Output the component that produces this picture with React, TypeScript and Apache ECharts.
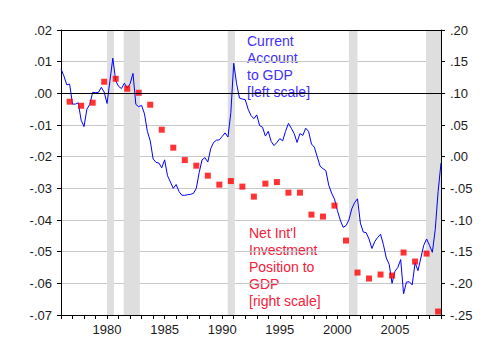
import React, { useEffect, useRef } from "react";
import * as echarts from "echarts";

// Current account to GDP, quarterly from 1976Q1 (left scale)
const caStartYear = 1976;
const caValues = [
  0.0077, 0.0055, 0.0027, 0.0029, -0.0034, -0.0034, -0.003, -0.0085,
  -0.0105, -0.005, -0.0035, 0.0003, 0.0002, 0.0003, 0.0019, 0.0004,
  -0.0032, 0.004, 0.0111, 0.004, 0.0022, 0.0015, 0.0032, 0.0016,
  0.003, 0.0063, -0.0035, -0.0042, -0.0038, -0.0065, -0.012, -0.015,
  -0.0207, -0.0218, -0.022, -0.0235, -0.021, -0.026, -0.028, -0.03,
  -0.0288, -0.031, -0.0322, -0.0322, -0.032, -0.0319, -0.0316, -0.03,
  -0.025, -0.021, -0.0203, -0.0217, -0.0175, -0.0155, -0.0148, -0.0147,
  -0.0136, -0.0125, -0.0138, -0.006, 0.0095, 0.003, -0.0015, -0.0018,
  -0.002, -0.005, -0.007, -0.008, -0.0068, -0.0102, -0.0107, -0.0135,
  -0.012, -0.0152, -0.0165, -0.0155, -0.0143, -0.015, -0.012, -0.0095,
  -0.011, -0.0127, -0.0155, -0.0127, -0.0133, -0.011, -0.012, -0.016,
  -0.017, -0.02, -0.023, -0.0238, -0.0244, -0.029, -0.0315, -0.0334,
  -0.037, -0.04, -0.0423, -0.0418, -0.04, -0.0365, -0.0345, -0.0333,
  -0.041, -0.0438, -0.044, -0.046, -0.049, -0.0468, -0.0455, -0.0445,
  -0.0478, -0.052, -0.054, -0.06, -0.0562, -0.055, -0.0525, -0.0633,
  -0.0596, -0.0595, -0.0605, -0.0535, -0.056, -0.052, -0.048, -0.046,
  -0.048, -0.0502, -0.043, -0.031, -0.022,
];

// Net international investment position to GDP, annual (right scale), plotted at Q4
const niipYears = [
  1976, 1977, 1978, 1979, 1980, 1981, 1982, 1983, 1984, 1985, 1986,
  1987, 1988, 1989, 1990, 1991, 1992, 1993, 1994, 1995, 1996, 1997,
  1998, 1999, 2000, 2001, 2002, 2003, 2004, 2005, 2006, 2007, 2008,
];
const niipValues = [
  0.0868, 0.0804, 0.0852, 0.1183, 0.123, 0.1073, 0.1009, 0.082, 0.0426,
  0.0142, -0.0054, -0.0142, -0.03, -0.0442, -0.0385, -0.0473, -0.0631,
  -0.0426, -0.0401, -0.0568, -0.0568, -0.0915, -0.0946, -0.0773, -0.1325,
  -0.183, -0.1924, -0.1861, -0.1877, -0.1514, -0.1656, -0.153, -0.2445,
];

// NBER recessions (start, end)
const recessionStarts = [1980.0, 1981.45, 1990.48, 2001.0, 2007.7];
const recessionEnds = [1980.6, 1982.85, 1991.1, 2001.75, 2009.0];

const xMin = 1976;
const xMax = 2009;
const xLabelStep = 5;
const leftMin = -0.07;
const leftMax = 0.02;
const leftStep = 0.01;
const rightMin = -0.25;
const rightMax = 0.2;
const rightStep = 0.05;

const FONT = '"Liberation Sans", Arial, Helvetica, sans-serif';

function fmtDec(v: number): string {
  if (Math.abs(v) < 1e-9) return ".00";
  return v.toFixed(2).replace(/^(-?)0\./, "$1.");
}

export default function App() {
  const ref = useRef<HTMLDivElement>(null);

  useEffect(() => {
    if (!ref.current) return;
    const chart = echarts.init(ref.current, null, { renderer: "svg" });

    const caData = caValues.map((v, i) => [caStartYear + i / 4, v]);
    const niipData = niipYears.map((y, i) => [y + 0.75, niipValues[i]]);
    const bands = recessionStarts.map((s, i) => [
      { xAxis: s },
      { xAxis: recessionEnds[i] },
    ]);

    const axisText = { color: "#1a1a1a", fontSize: 13, fontFamily: FONT };

    chart.setOption({
      animation: false,
      backgroundColor: "#ffffff",
      grid: { left: 61, top: 30, width: 380, height: 285, containLabel: false },
      xAxis: {
        type: "value",
        min: xMin,
        max: xMax,
        interval: 1,
        axisLine: { show: true, onZero: false, lineStyle: { color: "#000", width: 1 } },
        axisTick: { show: true, inside: false, length: 4, lineStyle: { color: "#000" } },
        axisLabel: {
          ...axisText,
          margin: 8,
          formatter: (v: number) => (Math.round(v) % xLabelStep === 0 ? String(Math.round(v)) : ""),
        },
        splitLine: { show: false },
      },
      yAxis: [
        {
          type: "value",
          position: "left",
          min: leftMin,
          max: leftMax,
          interval: leftStep,
          axisLine: { show: true, onZero: false, lineStyle: { color: "#000", width: 1 } },
          axisTick: { show: true, inside: false, length: 4, lineStyle: { color: "#000" } },
          axisLabel: { ...axisText, margin: 9, formatter: (v: number) => fmtDec(v) },
          splitLine: {
            show: true,
            showMinLine: false,
            showMaxLine: false,
            lineStyle: { color: "#c8c8c8", width: 1 },
          },
        },
        {
          type: "value",
          position: "right",
          min: rightMin,
          max: rightMax,
          interval: rightStep,
          axisLine: { show: true, onZero: false, lineStyle: { color: "#000", width: 1 } },
          axisTick: { show: true, inside: false, length: 4, lineStyle: { color: "#000" } },
          axisLabel: { ...axisText, margin: 9, formatter: (v: number) => fmtDec(v) },
          splitLine: { show: false },
        },
      ],
      series: [
        {
          name: "Current Account to GDP",
          type: "line",
          yAxisIndex: 0,
          data: caData,
          showSymbol: false,
          symbol: "none",
          lineStyle: { color: "#0000ff", width: 1 },
          z: 2,
          markArea: {
            silent: true,
            itemStyle: { color: "#dedede" },
            data: bands,
          },
          markLine: {
            silent: true,
            symbol: ["none", "none"],
            label: { show: false },
            lineStyle: { color: "#000", width: 1, type: "solid" },
            data: [
              { yAxis: 0 },
              { yAxis: leftMax },
              { yAxis: leftMin },
              { xAxis: xMax },
            ],
          },
        },
        {
          name: "Net Int'l Investment Position to GDP",
          type: "scatter",
          yAxisIndex: 1,
          data: niipData,
          symbol: "rect",
          symbolSize: 6,
          itemStyle: { color: "#ff0000" },
          z: 3,
        },
      ],
      graphic: [
        {
          type: "text",
          left: 247,
          top: 32,
          style: {
            text: "Current\nAccount\nto GDP\n[left scale]",
            fill: "#3f2fff",
            font: `14px ${FONT}`,
            lineHeight: 17,
          },
        },
        {
          type: "text",
          left: 249,
          top: 224,
          style: {
            text: "Net Int'l\nInvestment\nPosition to\nGDP\n[right scale]",
            fill: "#f5203c",
            font: `14px ${FONT}`,
            lineHeight: 17,
          },
        },
      ],
    });

    return () => {
      chart.dispose();
    };
  }, []);

  return (
    <div
      ref={ref}
      style={{ position: "fixed", left: 0, top: 0, width: 500, height: 363, background: "#fff" }}
    />
  );
}
